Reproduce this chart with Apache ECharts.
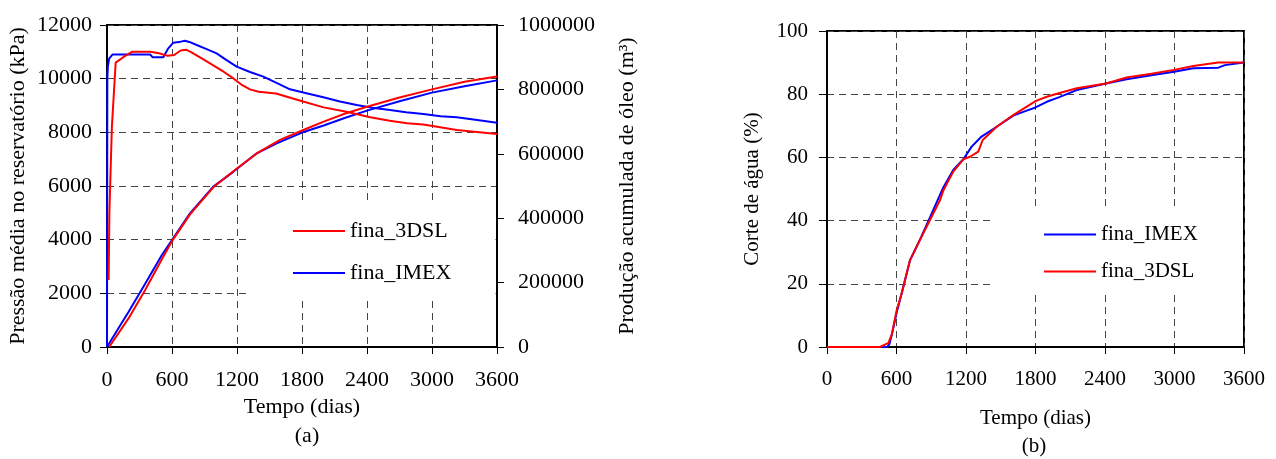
<!DOCTYPE html>
<html>
<head>
<meta charset="utf-8">
<script src="https://cdn.jsdelivr.net/npm/echarts@6.0.0/dist/echarts.min.js"></script>
<style>
html,body{margin:0;padding:0;background:#fff;}
#chart{width:1276px;height:459px;}
</style>
</head>
<body>
<div id="chart"></div>
<script>
// ---- data ----
var timeTicks = [0, 600, 1200, 1800, 2400, 3000, 3600];
var pressureTicks = [0, 2000, 4000, 6000, 8000, 10000, 12000];
var oilTicks = [0, 200000, 400000, 600000, 800000, 1000000];
var wcutTicks = [0, 20, 40, 60, 80, 100];

// (a) Pressão média no reservatório (kPa)
var pressure3DSL = [[15,2500],[22,5000],[45,8200],[80,10600],[150,10800],[230,11000],[400,11000],[480,10950],[560,10850],[620,10880],[680,11050],[730,11080],[780,10980],[890,10720],[1000,10450],[1080,10250],[1170,10000],[1240,9780],[1320,9600],[1400,9510],[1560,9450],[1700,9280],[1810,9150],[2000,8930],[2210,8770],[2430,8560],[2610,8430],[2770,8335],[2920,8290],[3230,8090],[3600,7940]];
var pressureIMEX = [[0,0],[3,10000],[8,10450],[20,10750],[50,10900],[400,10900],[420,10800],[520,10800],[540,10950],[566,11130],[612,11340],[680,11380],[720,11410],[760,11370],[828,11255],[920,11100],[1012,10944],[1100,10700],[1197,10447],[1320,10250],[1443,10075],[1560,9850],[1689,9602],[1850,9450],[1997,9304],[2150,9150],[2305,9019],[2450,8920],[2612,8832],[2760,8750],[2920,8683],[3080,8600],[3228,8559],[3400,8470],[3600,8360]];
// (a) Produção acumulada de óleo (m3)
var oil3DSL = [[20,0],[197,88000],[351,176000],[505,272000],[606,332000],[766,412000],[981,496000],[1166,546000],[1382,601000],[1597,643000],[1812,674000],[2000,700000],[2200,725000],[2400,746000],[2700,775000],[3000,800000],[3300,824000],[3600,840000]];
var oilIMEX = [[0,0],[100,55000],[197,108000],[351,196000],[505,285000],[606,335000],[766,415000],[981,498000],[1166,544000],[1382,601500],[1566,632600],[1800,666000],[2000,688000],[2200,712000],[2400,734000],[2700,763000],[3000,790000],[3300,810000],[3600,828000]];
// (b) Corte de água (%)
var wcutIMEX = [[0,0],[520,0],[540,1],[560,4],[602,11],[645,17],[717,27.5],[803,34],[889,41],[1004,50.5],[1090,56],[1177,59.4],[1249,63.4],[1334,66.6],[1465,69.7],[1608,73.2],[1724,74.8],[1800,75.8],[1897,77.6],[2000,79],[2156,81.3],[2409,83.4],[2587,84.7],[2800,86],[2996,87.1],[3162,88.2],[3378,88.4],[3436,89.2],[3600,90]];
var wcut3DSL = [[0,0],[456,0],[529,1.2],[560,4],[602,11.7],[645,17],[717,27.5],[803,33.9],[889,40.2],[976,46.5],[1004,49.5],[1090,55.5],[1177,59.4],[1234,60.2],[1306,61.8],[1344,65.5],[1465,69.7],[1608,73.4],[1804,77.9],[1897,79.2],[2000,80.3],[2156,81.9],[2409,83.4],[2587,85.3],[2800,86.5],[2996,87.7],[3162,88.9],[3378,90],[3600,90]];

// ---- styles ----
var FONT = "'Liberation Serif','Times New Roman',serif";
var RED = '#ff0000', BLUE = '#0000ff';
var split = {show:true, lineStyle:{color:'#444', type:[7,5], width:1}};
function tickStep(arr){ return arr[1]-arr[0]; }
function plain(v){ return String(v); }

function xAxis(gridIndex, gap, fs){
  return {
    type:'value', gridIndex:gridIndex,
    min:timeTicks[0], max:timeTicks[timeTicks.length-1], interval:tickStep(timeTicks),
    name:'Tempo (dias)', nameLocation:'middle', nameGap:gap, nameMoveOverlap:false,
    nameTextStyle:{fontFamily:FONT, fontSize:fs, color:'#000'},
    axisLine:{show:true, onZero:false, lineStyle:{color:'#000', width:2}},
    axisTick:{show:true, inside:false, length:7, lineStyle:{color:'#000', width:1}},
    axisLabel:{fontFamily:FONT, fontSize:fs, color:'#000', margin:22, formatter:plain},
    splitLine:split
  };
}

var chart = echarts.init(document.getElementById('chart'), null, {renderer:'canvas'});
var option = {
  animation:false,
  backgroundColor:'#fff',
  grid:[
    {left:107, top:25, width:390, height:322, show:true, borderColor:'#000', borderWidth:2, backgroundColor:'transparent'},
    {left:827, top:31, width:417, height:316, show:true, borderColor:'#000', borderWidth:2, backgroundColor:'transparent'}
  ],
  title:[
    {text:'(a)', left:302, top:420, textAlign:'center', textStyle:{fontFamily:FONT, fontSize:22, fontWeight:'normal', color:'#000'}},
    {text:'(b)', left:1029, top:431, textAlign:'center', textStyle:{fontFamily:FONT, fontSize:21, fontWeight:'normal', color:'#000'}}
  ],
  graphic:[
    {type:'rect', z:1, shape:{x:248, y:205, width:247.5, height:96}, style:{fill:'#fff'}},
    {type:'rect', z:1, shape:{x:990, y:210, width:252.5, height:83}, style:{fill:'#fff'}}
  ],
  legend:[
    {data:['fina_3DSL','fina_IMEX'], orient:'vertical', left:288, top:215, itemWidth:52, itemHeight:2, itemGap:20, icon:'rect',
     textStyle:{fontFamily:FONT, fontSize:22, color:'#000'}},
    {data:['fina_IMEX','fina_3DSL'], orient:'vertical', left:1039, top:219, itemWidth:52, itemHeight:2, itemGap:16, icon:'rect',
     textStyle:{fontFamily:FONT, fontSize:21, color:'#000'}}
  ],
  xAxis:[ xAxis(0, 49, 22), xAxis(1, 61, 21) ],
  yAxis:[
    {type:'value', gridIndex:0, position:'left',
     min:pressureTicks[0], max:pressureTicks[pressureTicks.length-1], interval:tickStep(pressureTicks),
     name:'Pressão média no reservatório (kPa)', nameLocation:'middle', nameGap:78,
     nameTextStyle:{fontFamily:FONT, fontSize:22, color:'#000'},
     axisLine:{show:true, onZero:false, lineStyle:{color:'#000', width:2}},
     axisTick:{show:true, length:7, lineStyle:{color:'#000', width:1}},
     axisLabel:{fontFamily:FONT, fontSize:22, color:'#000', margin:15, formatter:plain},
     splitLine:split},
    {type:'value', gridIndex:0, position:'right',
     min:oilTicks[0], max:oilTicks[oilTicks.length-1], interval:tickStep(oilTicks),
     name:'Produção acumulada de óleo (m³)', nameLocation:'middle', nameGap:119, nameRotate:90,
     nameTextStyle:{fontFamily:FONT, fontSize:22, color:'#000'},
     axisLine:{show:true, onZero:false, lineStyle:{color:'#000', width:2}},
     axisTick:{show:true, length:7, lineStyle:{color:'#000', width:1}},
     axisLabel:{fontFamily:FONT, fontSize:22, color:'#000', margin:21, formatter:plain},
     splitLine:{show:false}},
    {type:'value', gridIndex:1, position:'left',
     min:wcutTicks[0], max:wcutTicks[wcutTicks.length-1], interval:tickStep(wcutTicks),
     name:'Corte de água (%)', nameLocation:'middle', nameGap:64,
     nameTextStyle:{fontFamily:FONT, fontSize:21, color:'#000'},
     axisLine:{show:true, onZero:false, lineStyle:{color:'#000', width:2}},
     axisTick:{show:true, length:8, lineStyle:{color:'#000', width:1}},
     axisLabel:{fontFamily:FONT, fontSize:21, color:'#000', margin:19, formatter:plain},
     splitLine:split}
  ],
  series:[
    {name:'fina_3DSL', type:'line', xAxisIndex:0, yAxisIndex:0, data:pressure3DSL, showSymbol:false, lineStyle:{color:RED, width:2}, itemStyle:{color:RED}, z:3},
    {name:'fina_IMEX', type:'line', xAxisIndex:0, yAxisIndex:0, data:pressureIMEX, showSymbol:false, lineStyle:{color:BLUE, width:2}, itemStyle:{color:BLUE}, z:2},
    {name:'fina_3DSL', type:'line', xAxisIndex:0, yAxisIndex:1, data:oil3DSL, showSymbol:false, lineStyle:{color:RED, width:2}, itemStyle:{color:RED}, z:3},
    {name:'fina_IMEX', type:'line', xAxisIndex:0, yAxisIndex:1, data:oilIMEX, showSymbol:false, lineStyle:{color:BLUE, width:2}, itemStyle:{color:BLUE}, z:2},
    {name:'fina_IMEX', type:'line', xAxisIndex:1, yAxisIndex:2, data:wcutIMEX, showSymbol:false, lineStyle:{color:BLUE, width:2}, itemStyle:{color:BLUE}, z:2},
    {name:'fina_3DSL', type:'line', xAxisIndex:1, yAxisIndex:2, data:wcut3DSL, showSymbol:false, lineStyle:{color:RED, width:2}, itemStyle:{color:RED}, z:3}
  ]
};
chart.setOption(option);
</script>
</body>
</html>
